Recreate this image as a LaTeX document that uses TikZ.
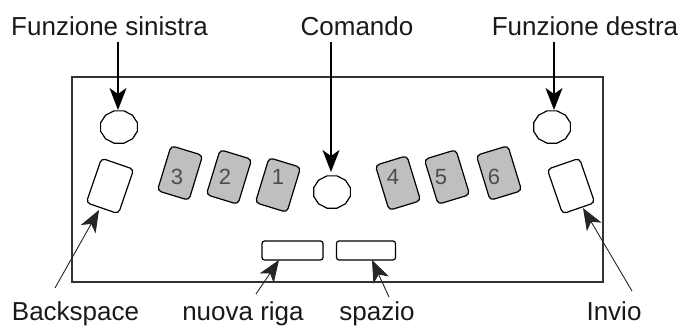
\documentclass[tikz,border=0pt]{standalone}
\usepackage{fontspec}
\setmainfont{Liberation Sans}
\usetikzlibrary{arrows.meta,shapes.geometric}
\tikzset{
  x=1pt,y=-1pt,
  framebox/.style={draw=black!80,line width=1.3pt},
  keybase/.style={draw=black,line width=1.2pt,rounded corners=4pt,inner sep=0pt,anchor=center},
  graykey/.style={keybase,fill=black!25,minimum width=33pt,minimum height=47pt},
  digit/.style={font=\fontsize{22}{22}\selectfont,text=black!70,inner sep=0pt},
  whitekey/.style={keybase,fill=white,minimum width=34pt,minimum height=47pt},
  barkey/.style={keybase,fill=white,minimum width=61pt,minimum height=19pt,rounded corners=2.5pt},
  roundkey/.style={draw=black,line width=1.2pt,fill=white,regular polygon,regular polygon sides=12,inner sep=0pt,minimum size=38pt,yscale=.88},
  vert/.style={draw=black,line width=1.3pt,-{Stealth[length=22pt,width=17pt,inset=6pt]}},
  diag/.style={draw=black!85,line width=0.9pt,-{Stealth[length=22pt,width=17pt,inset=6pt]}},
  lab/.style={font=\fontsize{26}{27}\selectfont,inner sep=0pt,text=black!90},
}
\begin{document}
\begin{tikzpicture}
\useasboundingbox (0,0) rectangle (683,327);
\draw[framebox] (72,77) rectangle (603,282);
\node[roundkey] (fs) at (119,127) {};
\node[roundkey] (cmd) at (332,192) {};
\node[roundkey] (fd) at (552,127) {};
\node[whitekey,rotate=-19] (bs) at (110,186) {};
\node[whitekey,rotate=19] (inv) at (571,186) {};
\node[graykey,rotate=-17] (k3) at (180,173) {};
\node[graykey,rotate=-17] (k2) at (229,177) {};
\node[graykey,rotate=-17] (k1) at (278,185) {};
\node[graykey,rotate=17] (k4) at (398,183) {};
\node[graykey,rotate=17] (k5) at (447,177) {};
\node[graykey,rotate=17] (k6) at (499,173) {};
\node[digit] (d3) at (177,177) {3};
\node[digit] (d2) at (225,177) {2};
\node[digit] (d1) at (278,177) {1};
\node[digit] (d4) at (393,177) {4};
\node[digit] (d5) at (441,177) {5};
\node[digit] (d6) at (494,177) {6};
\node[barkey] (nr) at (292.5,250.5) {};
\node[barkey,minimum width=59pt] (sp) at (366,250.5) {};
\node[lab,anchor=base] (tfs) at (109.5,35) {Funzione sinistra};
\node[lab,anchor=base] (tc) at (357,35) {Comando};
\node[lab,anchor=base] (tfd) at (585,35) {Funzione destra};
\node[lab,anchor=base] (tb) at (75.5,320.5) {Backspace};
\node[lab,anchor=base] (tn) at (243,320.5) {nuova riga};
\node[lab,anchor=base] (ts) at (377,320.5) {spazio};
\node[lab,anchor=base] (ti) at (614,320.5) {Invio};
\coordinate (afs) at (118,42);
\coordinate (ac) at (331,42);
\coordinate (afd) at (554,42);
\coordinate (ab) at (55,288);
\coordinate (an) at (256,294);
\coordinate (as) at (389,297);
\coordinate (ai) at (632,291);
\coordinate (tipfs) at (118,110);
\coordinate (tipc) at (331,172);
\coordinate (tipfd) at (554,110);
\coordinate (tipb) at (99,210);
\coordinate (tipn) at (279,260);
\coordinate (tips) at (372,260);
\coordinate (tipi) at (583,208);
\draw[vert] (afs) -- (tipfs);
\draw[vert] (ac) -- (tipc);
\draw[vert] (afd) -- (tipfd);
\draw[diag] (ab) -- (tipb);
\draw[diag] (an) -- (tipn);
\draw[diag] (as) -- (tips);
\draw[diag] (ai) -- (tipi);
\end{tikzpicture}
\end{document}
